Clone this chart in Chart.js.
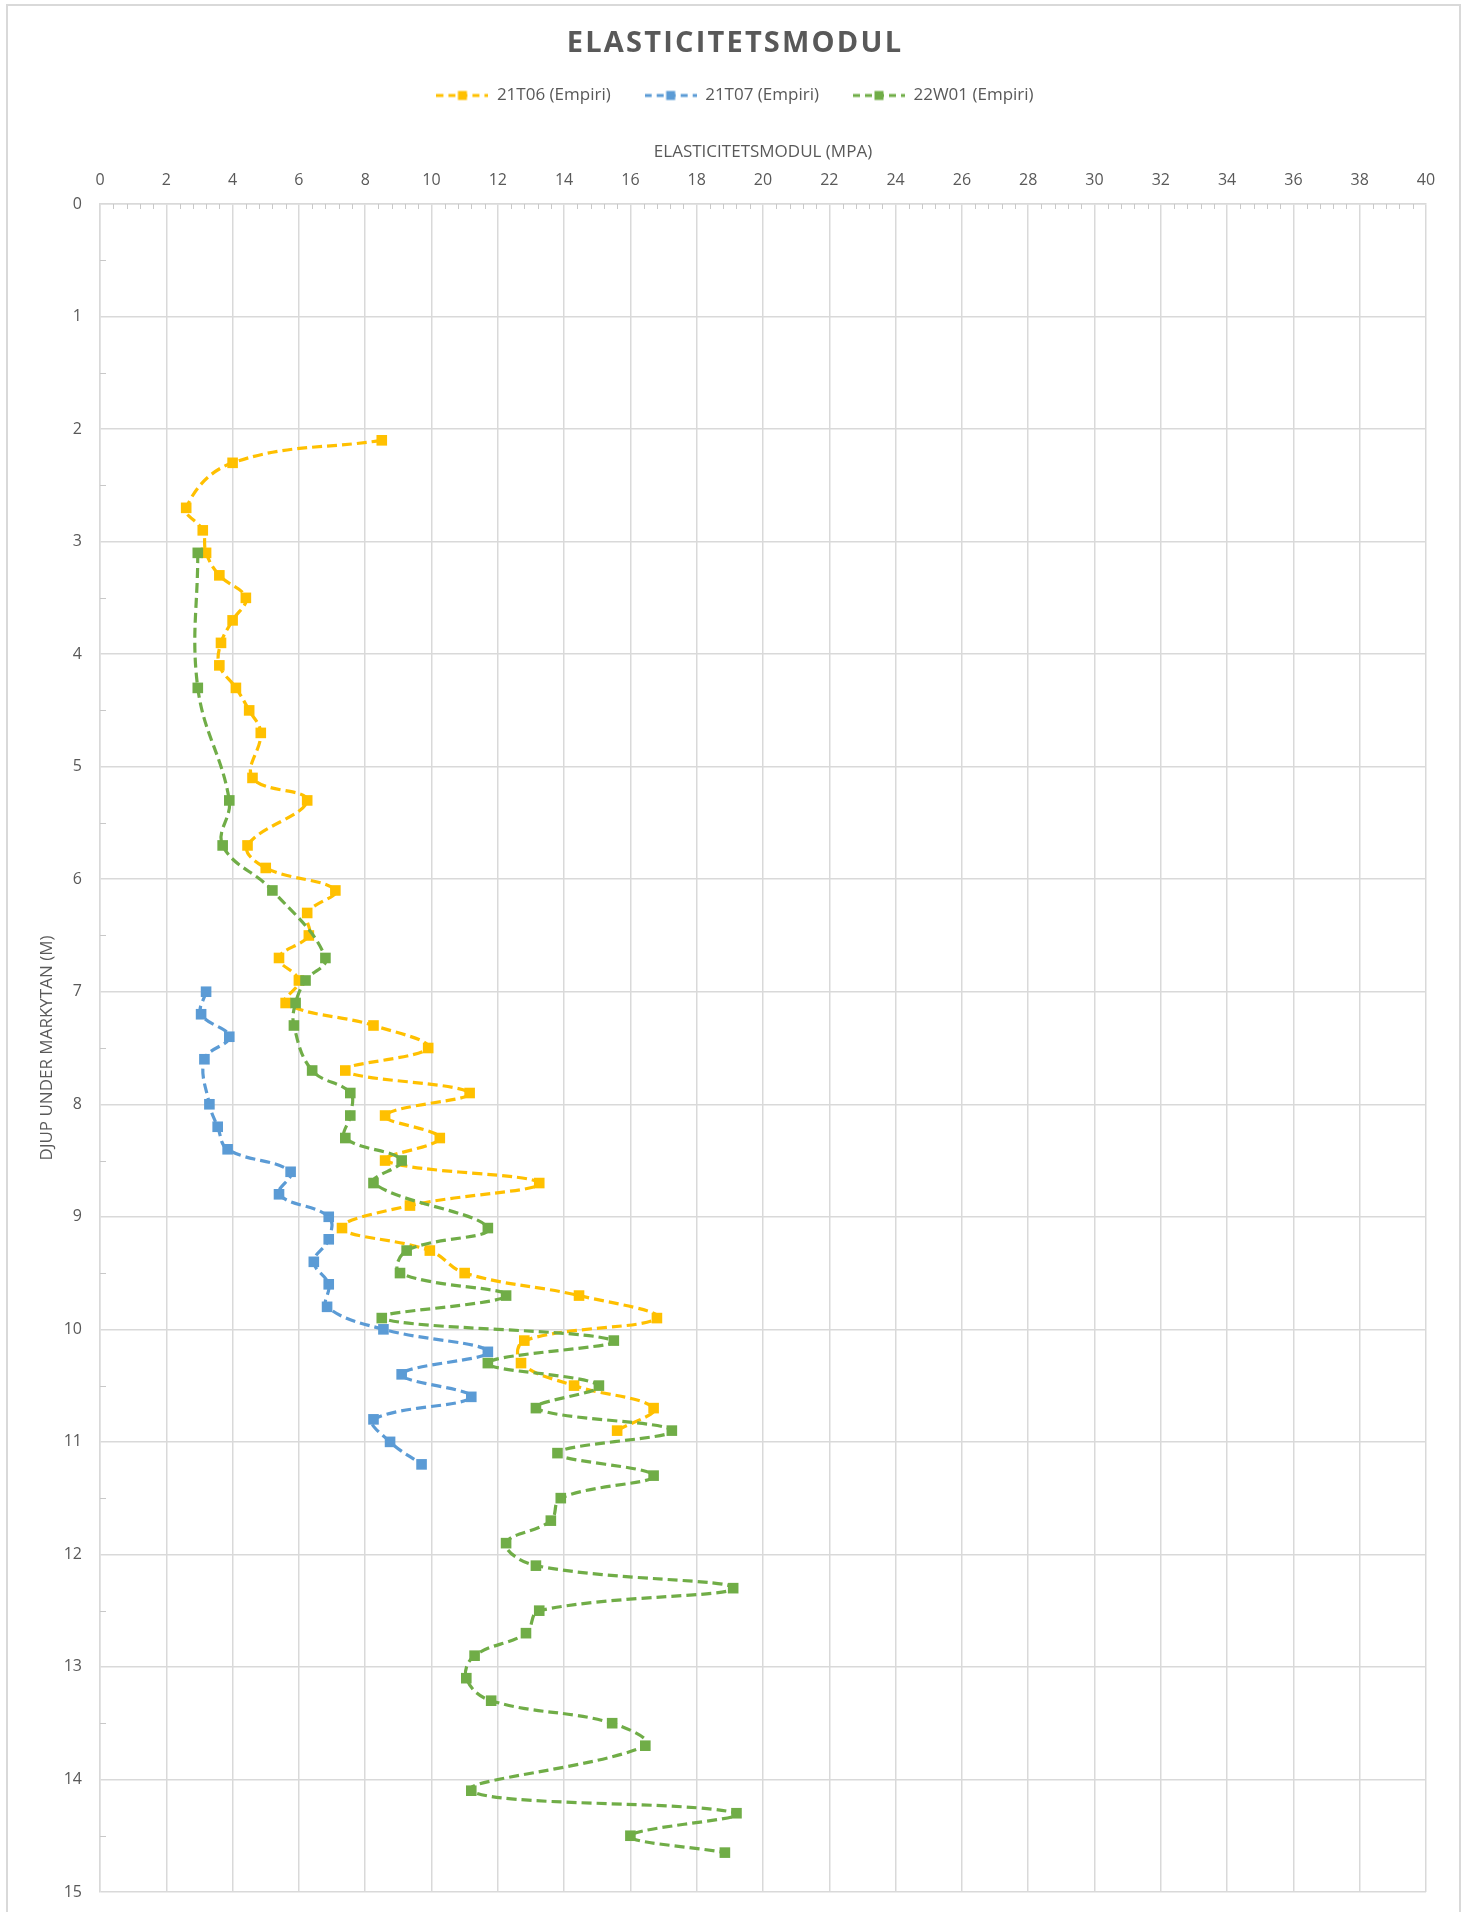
<!DOCTYPE html>
<html>
<head>
<meta charset="utf-8">
<title>Elasticitetsmodul</title>
<script src="https://cdn.jsdelivr.net/npm/chart.js@4.4.1/dist/chart.umd.min.js"></script>
<style>
  html, body { margin: 0; padding: 0; background: #ffffff; }
  #wrap { position: relative; width: 1469px; height: 1912px; }
</style>
</head>
<body>
<div id="wrap"><canvas id="chart"></canvas></div>
<script>
// Series names shown in the legend
const seriesNames = ['21T06 (Empiri)', '21T07 (Empiri)', '22W01 (Empiri)'];

// 21T06 – depth below ground (m) and modulus (MPa)
const depth21T06 = [2.1, 2.3, 2.7, 2.9, 3.1, 3.3, 3.5, 3.7, 3.9, 4.1, 4.3, 4.5, 4.7, 5.1, 5.3,
  5.7, 5.9, 6.1, 6.3, 6.5, 6.7, 6.9, 7.1, 7.3, 7.5, 7.7, 7.9, 8.1, 8.3, 8.5,
  8.7, 8.9, 9.1, 9.3, 9.5, 9.7, 9.9, 10.1, 10.3, 10.5, 10.7, 10.9];
const modulus21T06 = [8.5, 4.0, 2.6, 3.1, 3.2, 3.6, 4.4, 4.0, 3.65, 3.6, 4.1, 4.5, 4.85, 4.6, 6.25,
  4.45, 5.0, 7.1, 6.25, 6.3, 5.4, 6.0, 5.6, 8.25, 9.9, 7.4, 11.15, 8.6, 10.25, 8.6,
  13.25, 9.35, 7.3, 9.95, 11.0, 14.45, 16.8, 12.8, 12.7, 14.3, 16.7, 15.6];

// 21T07
const depth21T07 = [7.0, 7.2, 7.4, 7.6, 8.0, 8.2, 8.4, 8.6, 8.8, 9.0, 9.2, 9.4, 9.6, 9.8,
  10.0, 10.2, 10.4, 10.6, 10.8, 11.0, 11.2];
const modulus21T07 = [3.2, 3.05, 3.9, 3.15, 3.3, 3.55, 3.85, 5.75, 5.4, 6.9, 6.9, 6.45, 6.9, 6.85,
  8.55, 11.7, 9.1, 11.2, 8.25, 8.75, 9.7];

// 22W01
const depth22W01 = [3.1, 4.3, 5.3, 5.7, 6.1, 6.7, 6.9, 7.1, 7.3, 7.7, 7.9, 8.1, 8.3, 8.5, 8.7,
  9.1, 9.3, 9.5, 9.7, 9.9, 10.1, 10.3, 10.5, 10.7, 10.9, 11.1, 11.3, 11.5, 11.7, 11.9,
  12.1, 12.3, 12.5, 12.7, 12.9, 13.1, 13.3, 13.5, 13.7, 14.1, 14.3, 14.5, 14.65];
const modulus22W01 = [2.95, 2.95, 3.9, 3.7, 5.2, 6.8, 6.2, 5.9, 5.85, 6.4, 7.55, 7.55, 7.4, 9.1, 8.25,
  11.7, 9.25, 9.05, 12.25, 8.5, 15.5, 11.7, 15.05, 13.15, 17.25, 13.8, 16.7, 13.9, 13.6, 12.25,
  13.15, 19.1, 13.25, 12.85, 11.3, 11.05, 11.8, 15.45, 16.45, 11.2, 19.2, 16.0, 18.85];

// Axis tick labels
const modulusTicks = [0, 2, 4, 6, 8, 10, 12, 14, 16, 18, 20, 22, 24, 26, 28, 30, 32, 34, 36, 38, 40];
const depthTicks = [0, 1, 2, 3, 4, 5, 6, 7, 8, 9, 10, 11, 12, 13, 14, 15];

const FONT = '"Open Sans", "Liberation Sans", sans-serif';
const TEXT = '#595959';
const GRID = '#d9d9d9';
const seriesColors = ['#FFC000', '#5B9BD5', '#70AD47'];

function toPoints(depths, values) {
  return depths.map((d, i) => ({ x: values[i], y: d }));
}

// Legend sample: dashed line with a square marker in the middle
function legendIcon(color) {
  const c = document.createElement('canvas');
  c.width = 52; c.height = 14;
  const g = c.getContext('2d');
  g.strokeStyle = color;
  g.lineWidth = 3;
  g.setLineDash([7, 5]);
  g.beginPath(); g.moveTo(0, 7); g.lineTo(52, 7); g.stroke();
  g.fillStyle = color;
  g.fillRect(21.5, 2.5, 9, 9);
  return c;
}
const legendIcons = seriesColors.map(legendIcon);

// White background and outer chart frame
const chartFrame = {
  id: 'chartFrame',
  beforeDraw(chart) {
    const { ctx, width, height } = chart;
    ctx.save();
    ctx.fillStyle = '#ffffff';
    ctx.fillRect(0, 0, width, height);
    ctx.strokeStyle = GRID;
    ctx.lineWidth = 2;
    ctx.strokeRect(7, 5, 1453, height + 20);
    ctx.restore();
  }
};

// Small minor tick marks inside the plot edge
const minorTicks = {
  id: 'minorTicks',
  beforeDatasetsDraw(chart) {
    const { ctx, chartArea, scales } = chart;
    ctx.save();
    ctx.strokeStyle = '#c8c8c8';
    ctx.lineWidth = 1;
    ctx.beginPath();
    for (let k = 1; k < 100; k++) {
      if (k % 5 === 0) continue;
      const px = Math.round(scales.x.getPixelForValue(k * 0.4)) + 0.5;
      ctx.moveTo(px, chartArea.top);
      ctx.lineTo(px, chartArea.top + 5);
    }
    for (let k = 0; k < 15; k++) {
      const py = Math.round(scales.y.getPixelForValue(k + 0.5)) + 0.5;
      ctx.moveTo(chartArea.left, py);
      ctx.lineTo(chartArea.left + 6, py);
    }
    ctx.stroke();
    ctx.restore();
  }
};

// Letter-spaced chart heading
const chartHeading = {
  id: 'chartHeading',
  afterDraw(chart) {
    const { ctx } = chart;
    ctx.save();
    ctx.font = 'bold 29px ' + FONT;
    ctx.fillStyle = TEXT;
    ctx.textAlign = 'center';
    ctx.textBaseline = 'alphabetic';
    ctx.letterSpacing = '2.2px';
    ctx.fillText('ELASTICITETSMODUL', 735, 52);
    ctx.restore();
  }
};

const lineStyle = {
  showLine: true,
  borderWidth: 3.2,
  borderDash: [10, 5],
  borderCapStyle: 'butt',
  tension: 0.4,
  pointStyle: 'rect',
  pointRadius: 7.5,
  pointHoverRadius: 7.5,
  pointBorderWidth: 0,
  clip: false
};

new Chart(document.getElementById('chart'), {
  type: 'scatter',
  data: {
    datasets: [
      Object.assign({ label: seriesNames[0], data: toPoints(depth21T06, modulus21T06),
        borderColor: seriesColors[0], backgroundColor: seriesColors[0], order: 3 }, lineStyle),
      Object.assign({ label: seriesNames[1], data: toPoints(depth21T07, modulus21T07),
        borderColor: seriesColors[1], backgroundColor: seriesColors[1], order: 2 }, lineStyle),
      Object.assign({ label: seriesNames[2], data: toPoints(depth22W01, modulus22W01),
        borderColor: seriesColors[2], backgroundColor: seriesColors[2], order: 1 }, lineStyle)
    ]
  },
  options: {
    responsive: true,
    maintainAspectRatio: false,
    animation: false,
    devicePixelRatio: 1,
    events: [],
    layout: { padding: { top: 53, left: 44, right: 43, bottom: 20 } },
    plugins: {
      title: { display: false },
      tooltip: { enabled: false },
      legend: {
        position: 'top',
        labels: {
          usePointStyle: true,
          pointStyleWidth: 52,
          padding: 34,
          color: TEXT,
          font: { family: FONT, size: 17 },
          sort: (a, b) => a.datasetIndex - b.datasetIndex,
          generateLabels(chart) {
            const items = Chart.defaults.plugins.legend.labels.generateLabels(chart);
            items.forEach(it => { it.pointStyle = legendIcons[it.datasetIndex]; it.lineWidth = 0; });
            return items;
          }
        }
      }
    },
    scales: {
      x: {
        type: 'linear',
        position: 'top',
        min: 0,
        max: 40,
        afterBuildTicks: s => { s.ticks = modulusTicks.map(v => ({ value: v })); },
        afterFit: s => { s.height = 90; },
        grid: { color: GRID, lineWidth: 1.5, drawTicks: false },
        border: { color: GRID, width: 1.5 },
        ticks: { color: TEXT, font: { family: FONT, size: 16 }, padding: 14, maxRotation: 0, autoSkip: false },
        title: { display: true, text: 'ELASTICITETSMODUL (MPA)', color: TEXT,
          font: { family: FONT, size: 17 }, padding: { top: 28, bottom: 0 } }
      },
      y: {
        type: 'linear',
        reverse: true,
        min: 0,
        max: 15,
        afterBuildTicks: s => { s.ticks = depthTicks.map(v => ({ value: v })); },
        afterFit: s => { s.width = 56; s.paddingTop = 0; s.paddingBottom = 10; },
        grid: { color: GRID, lineWidth: 1.5, drawTicks: false },
        border: { color: GRID, width: 1.5 },
        ticks: { color: TEXT, font: { family: FONT, size: 16 }, padding: 18, autoSkip: false },
        title: { display: true, text: 'DJUP UNDER MARKYTAN (M)', color: TEXT,
          font: { family: FONT, size: 17 }, padding: { top: -7, bottom: 0 } }
      }
    }
  },
  plugins: [chartFrame, minorTicks, chartHeading]
});
</script>
</body>
</html>
